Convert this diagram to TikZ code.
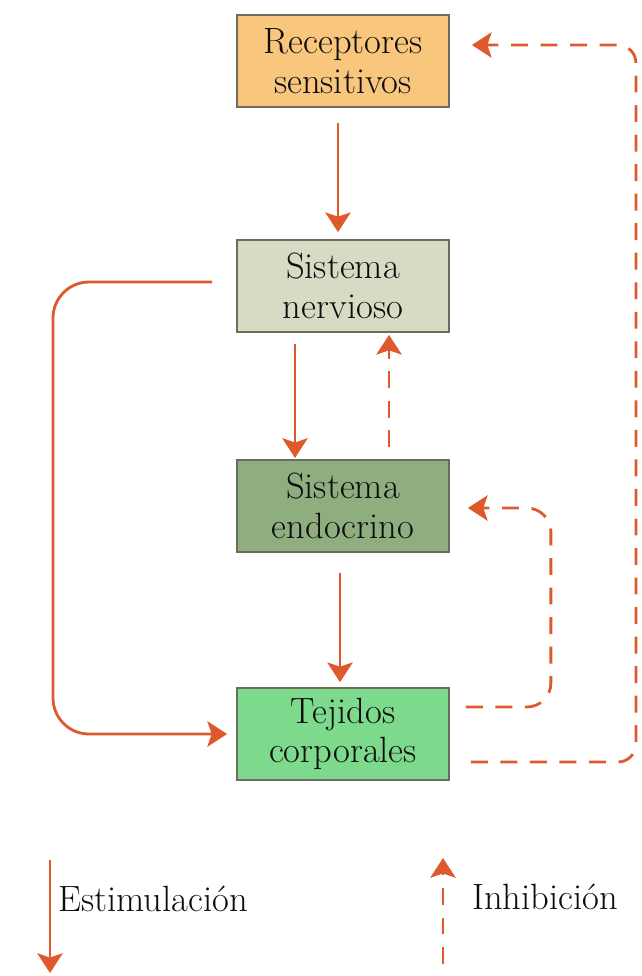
\documentclass[tikz,border=0pt]{standalone}
\usepackage{xcolor}
\usepackage{tikz}
\usetikzlibrary{arrows.meta, positioning}
\definecolor{flecha}{HTML}{DE5A2C}
\definecolor{borde}{HTML}{6E6C5C}
\definecolor{recep}{HTML}{F8C67C}
\definecolor{nervi}{HTML}{D6DCC3}
\definecolor{endoc}{HTML}{8EAE80}
\definecolor{tejid}{HTML}{7DD98B}
\tikzset{
  estim/.style={
    draw = flecha,
    line width = 2pt,
    -{Stealth[length=14pt, width=18pt, inset=3pt]}
  },
  inhib/.style={
    estim,
    dash pattern = on 12pt off 9pt
  },
  caja/.style={
    draw = borde,
    line width = 1.2pt,
    minimum width = 5.3cm,
    minimum height = 2.3cm,
    align = center,
    text = black!95,
    font = \fontsize{26}{28}\selectfont
  }
}

\begin{document}
\begin{tikzpicture}[x=0.025cm, y=-0.025cm]
\newcommand\XMid{343}
\useasboundingbox (0,0) rectangle (642,976);
\node[caja, fill=recep] (Rec)  at (\XMid,61)  {Receptores\\sensitivos};
\node[caja, fill=nervi] (Nerv) at (\XMid,286) {Sistema\\nervioso};
\node[caja, fill=endoc] (Endo) at (\XMid,506) {Sistema\\endocrino};
\node[caja, fill=tejid] (Tej)  at (\XMid,734) {Tejidos\\corporales};
\coordinate (Izq) at (53,282);

\draw[estim, shorten <=0.375cm, shorten >=0.175cm] ([xshift=-0.125cm]Rec.south) -- ([xshift=-0.125cm]Nerv.north);
\draw[estim, shorten <=0.275cm, shorten >=0.03cm] ([xshift=-1.2cm]Nerv.south) -- ([xshift=-1.2cm]Endo.north);
\draw[inhib, shorten <=0.3cm, shorten >=0.05cm] ([xshift=1.15cm]Endo.north) -- ([xshift=1.15cm]Nerv.south);
\draw[estim, shorten <=0.5cm, shorten >=0.125cm] ([xshift=-0.075cm]Endo.south) -- ([xshift=-0.075cm]Tej.north);
\draw[estim, rounded corners=0.9cm, shorten >=0.225cm] ([xshift=-0.6cm, yshift=0.1cm]Nerv.west) -- (Izq) |- (Tej.west);

\draw[inhib, rounded corners=0.6cm] ([xshift=0.4cm, yshift=0.675cm]Tej.east) -- ++(2.125cm,0)
      |- ([xshift=0.45cm, yshift=-0.05cm]Endo.east);
\draw[inhib, rounded corners=0.45cm] ([xshift=0.525cm, yshift=-0.7cm]Tej.east) -- ++(4.125cm,0)
      |- ([xshift=0.55cm, yshift=0.4cm]Rec.east);

% leyenda
\coordinate (EstA) at (50,860);
\coordinate (EstB) at (50,973);
\coordinate (InhA) at (443,964);
\coordinate (InhB) at (443,858);
\draw[estim] (EstA) -- (EstB);
\draw[inhib] (InhA) -- (InhB);
\node[anchor=base west, inner sep=0pt, text=black!95, font=\fontsize{26}{28}\selectfont] (EstTxt) at (58,911) {Estimulación};
\node[anchor=base west, inner sep=0pt, text=black!95, font=\fontsize{26}{28}\selectfont] (InhTxt) at (472,909) {Inhibición};
\end{tikzpicture}
\end{document}
